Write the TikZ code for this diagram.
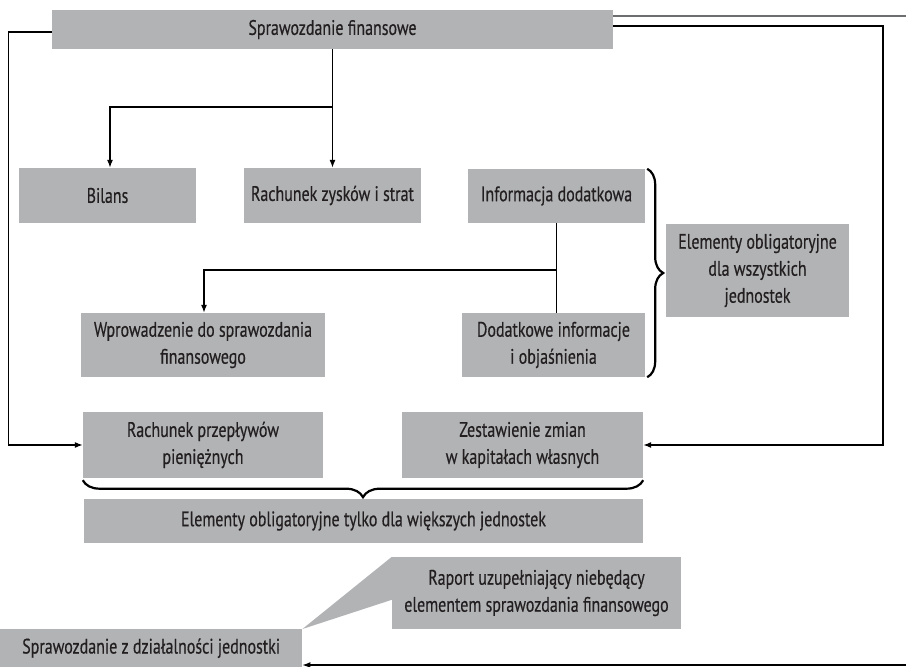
\documentclass[tikz,border=0pt]{standalone}
\usepackage{fontspec}
\setmainfont{PT Sans}[FakeStretch=0.76,FakeBold=0.4]
\usetikzlibrary{arrows.meta,decorations.pathreplacing,calc}
\definecolor{boxgray}{RGB}{177,179,181}
\definecolor{txtgray}{HTML}{231F20}
\definecolor{linegray}{HTML}{6D6E70}
\begin{document}
\begin{tikzpicture}[x=1pt,y=-1pt,
  box/.style={fill=boxgray, text=txtgray, align=center, inner sep=0pt,
    font=\fontsize{21}{27}\selectfont},
  conn/.style={draw=black, line width=1.2pt},
  arr/.style={conn, -{Latex[length=8pt,width=6pt]}},
  bracestyle/.style={draw=black, line width=2.2pt,
    decorate, decoration={brace, amplitude=16pt}},
  grayline/.style={draw=linegray, line width=2.2pt}]
\useasboundingbox (0,0) rectangle (906,667);

\node[box, minimum width=561pt, minimum height=39pt] (top) at (332.5,29.5) {Sprawozdanie finansowe};
\node[box, minimum width=177pt, minimum height=55pt] (bil) at (107.5,195.5) {Bilans};
\node[box, minimum width=177pt, minimum height=55pt] (rzis) at (332.5,195.5) {Rachunek zysków i strat};
\node[box, minimum width=177pt, minimum height=54pt] (info) at (556.5,196) {Informacja dodatkowa};
\node[box, minimum width=183pt, minimum height=93pt] (oblig) at (757.5,270.5) {Elementy obligatoryjne\\dla wszystkich\\jednostek};
\node[box, minimum width=244pt, minimum height=64pt] (wpr) at (203,345) {Wprowadzenie do sprawozdania\\finansowego};
\node[box, minimum width=183pt, minimum height=64pt] (dod) at (553.5,345) {Dodatkowe informacje\\i objaśnienia};
\node[box, minimum width=240pt, minimum height=66pt] (rpp) at (203,445) {Rachunek przepływów\\pieniężnych};
\node[box, minimum width=241pt, minimum height=66pt] (zzk) at (522.5,445) {Zestawienie zmian\\w kapitałach własnych};
\node[box, minimum width=559pt, minimum height=44pt] (tylko) at (363.5,521) {Elementy obligatoryjne tylko dla większych jednostek};
\node[box, minimum width=289pt, minimum height=72pt] (rap) at (536.5,593) {Raport uzupełniający niebędący\\elementem sprawozdania finansowego};
\node[box, minimum width=302pt, minimum height=38pt, anchor=north west] (szd) at (0,629) {Sprawozdanie z działalności jednostki};

% callout wedge
\fill[boxgray] (rap.north west) -- ([yshift=-43pt]rap.north west) -- (szd.north east) -- cycle;

% coordinates
\coordinate (ge) at (906,16);
\coordinate (rc) at (883,26);
\coordinate (b1) at (332.5,107);
\coordinate (b2) at (556.5,270);
\coordinate (be) at (906,665);

% top gray line
\draw[grayline] ([yshift=13.5pt]top.east) -- (ge);

% loops
\draw[arr] ([yshift=-2.5pt]top.west) -- ++(-43,0) |- (rpp.west);
\draw[arr] ([yshift=3.5pt]top.east) -- (rc) |- (zzk.east);

% centre tree
\draw[arr] (top.south) -- (rzis.north);
\draw[arr] (b1) -| ([xshift=2.5pt]bil.north);

% info tree
\draw[conn] (info.south) -- (info.south |- dod.north);
\draw[arr] (b2) -| ([xshift=1pt]wpr.north);

% bottom arrow
\draw[arr] (be) -- (szd.east |- be);

% braces
\draw[bracestyle] ([xshift=2pt]info.north east) -- ([xshift=2pt]dod.south east);
\draw[bracestyle, decoration={brace, amplitude=17pt}] ([yshift=-2pt]zzk.south east) -- ([yshift=-2pt]rpp.south west);
\end{tikzpicture}
\end{document}
